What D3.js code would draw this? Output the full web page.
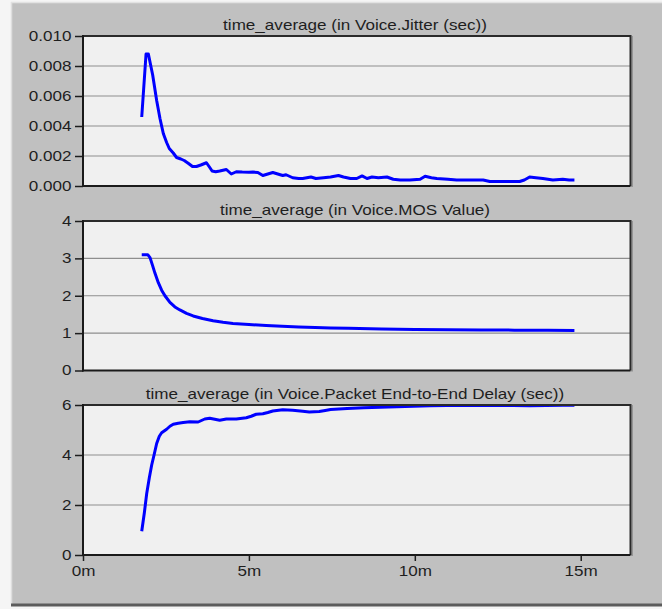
<!DOCTYPE html>
<html>
<head>
<meta charset="utf-8">
<script src="https://cdn.jsdelivr.net/npm/d3@7"></script>
<style>
  html, body { margin: 0; padding: 0; background: #f5f5f5; }
  svg { display: block; }
  text {
    font-family: "Liberation Sans", Arial, sans-serif;
    font-size: 14px;
    fill: #1e1e1e;
    transform-box: fill-box;
    transform: scaleX(1.22);
  }
  .ytick text { transform-origin: 100% 50%; }
  .xtick text, text.title { transform-origin: 50% 50%; }
</style>
</head>
<body>
<svg id="chart" width="662" height="609"></svg>
<script>
// Voice statistics, time averaged, sampled in simulation minutes
const jitterTime = [1.77, 1.90, 1.97, 2.10, 2.22, 2.32, 2.42, 2.52, 2.60, 2.72, 2.82, 2.95, 3.05, 3.18, 3.30, 3.42, 3.55, 3.72, 3.80, 3.89,
  4.00, 4.12, 4.32, 4.47, 4.62, 4.80, 5.00, 5.12, 5.27, 5.42, 5.57, 5.72, 5.87, 6.02, 6.12, 6.32, 6.50, 6.62, 6.87, 7.02,
  7.25, 7.46, 7.70, 7.85, 8.06, 8.25, 8.41, 8.56, 8.71, 8.90, 9.16, 9.35, 9.56, 9.85, 10.16, 10.31, 10.50, 10.66, 11.00, 11.26,
  11.60, 12.06, 12.26, 12.50, 12.76, 13.16, 13.30, 13.46, 13.65, 13.86, 14.16, 14.46, 14.65, 14.81];
const jitterValue = [0.0046, 0.0088, 0.0088, 0.0074, 0.0057, 0.0045, 0.0035, 0.0029, 0.0025, 0.0022, 0.0019, 0.0018, 0.0017, 0.0015, 0.0013, 0.0013, 0.0014, 0.00155, 0.0013, 0.0010,
  0.00095, 0.0010, 0.0011, 0.0008, 0.00095, 0.00093, 0.00092, 0.00093, 0.0009, 0.0007, 0.0008, 0.0009, 0.0008, 0.0007, 0.00075, 0.00055, 0.0005, 0.0005, 0.0006, 0.0005,
  0.00055, 0.0006, 0.0007, 0.0006, 0.0005, 0.0005, 0.00067, 0.0005, 0.0006, 0.00055, 0.0006, 0.00045, 0.0004, 0.0004, 0.00045, 0.00065, 0.00055, 0.0005, 0.00045, 0.0004,
  0.0004, 0.0004, 0.0003, 0.0003, 0.0003, 0.0003, 0.0004, 0.0006, 0.00055, 0.0005, 0.0004, 0.00045, 0.0004, 0.0004];

const mosTime = [1.77, 1.95, 2.02, 2.10, 2.17, 2.27, 2.37, 2.47, 2.62, 2.77, 2.92, 3.12, 3.32, 3.60, 3.92, 4.22, 4.52, 5.00, 5.52, 6.00,
  6.50, 7.00, 7.46, 8.00, 9.00, 10.00, 11.00, 12.00, 13.00, 14.00, 14.81];
const mosValue = [3.1, 3.1, 3.02, 2.8, 2.6, 2.35, 2.15, 2.0, 1.82, 1.70, 1.62, 1.53, 1.46, 1.39, 1.33, 1.29, 1.26, 1.23, 1.205, 1.185,
  1.165, 1.15, 1.14, 1.13, 1.11, 1.10, 1.09, 1.085, 1.08, 1.075, 1.07];

const delayTime = [1.77, 1.85, 1.92, 2.00, 2.07, 2.15, 2.22, 2.30, 2.37, 2.52, 2.62, 2.72, 2.87, 3.02, 3.22, 3.47, 3.57, 3.67, 3.82, 3.97,
  4.12, 4.32, 4.62, 4.92, 5.07, 5.22, 5.42, 5.57, 5.72, 6.02, 6.32, 6.62, 6.82, 7.12, 7.30, 7.46, 7.96, 8.46, 8.96, 9.46,
  9.96, 10.46, 10.96, 11.46, 11.96, 12.46, 12.96, 13.46, 13.96, 14.46, 14.81];
const delayValue = [0.95, 1.7, 2.46, 3.1, 3.6, 4.05, 4.46, 4.75, 4.89, 5.03, 5.15, 5.23, 5.27, 5.3, 5.33, 5.32, 5.38, 5.44, 5.47, 5.43,
  5.39, 5.44, 5.44, 5.49, 5.55, 5.63, 5.65, 5.7, 5.76, 5.81, 5.79, 5.75, 5.72, 5.74, 5.78, 5.82, 5.86, 5.89, 5.91, 5.93,
  5.95, 5.97, 5.98, 5.99, 5.98, 5.99, 5.98, 5.97, 5.98, 5.99, 5.99];

const titles = [
  "time_average (in Voice.Jitter (sec))",
  "time_average (in Voice.MOS Value)",
  "time_average (in Voice.Packet End-to-End Delay (sec))"
];
const jitterTicks = [0, 0.002, 0.004, 0.006, 0.008, 0.010];
const mosTicks = [0, 1, 2, 3, 4];
const delayTicks = [0, 2, 4, 6];
const timeTicks = [0, 5, 10, 15];
const timeMax = 16.5;

const svg = d3.select("#chart");

// window frame
svg.append("rect").attr("x", 11).attr("y", 2).attr("width", 651).attr("height", 603).attr("fill", "#c0c0c0");
svg.append("line").attr("x1", 11.5).attr("x2", 11.5).attr("y1", 2).attr("y2", 604).attr("stroke", "#dedede").attr("stroke-width", 1.5);
svg.append("line").attr("x1", 11).attr("x2", 662).attr("y1", 2.5).attr("y2", 2.5).attr("stroke", "#e2e2e2").attr("stroke-width", 1.5);
svg.append("line").attr("x1", 11).attr("x2", 662).attr("y1", 605).attr("y2", 605).attr("stroke", "#5c5c5c").attr("stroke-width", 3);

const left = 83, right = 630.5;
const x = d3.scaleLinear().domain([0, timeMax]).range([left, right]);

const panels = [
  { title: titles[0], t: jitterTime, v: jitterValue, ticks: jitterTicks, fmt: d3.format(".3f"), top: 36, bottom: 186 },
  { title: titles[1], t: mosTime, v: mosValue, ticks: mosTicks, fmt: d3.format("d"), top: 221, bottom: 370.5 },
  { title: titles[2], t: delayTime, v: delayValue, ticks: delayTicks, fmt: d3.format("d"), top: 405, bottom: 555 }
];

panels.forEach((p, i) => {
  const y = d3.scaleLinear().domain([p.ticks[0], p.ticks[p.ticks.length - 1]]).range([p.bottom, p.top]);
  const g = svg.append("g");

  g.append("rect")
    .attr("x", left).attr("y", p.top)
    .attr("width", right - left).attr("height", p.bottom - p.top)
    .attr("fill", "#f0f0f0");

  // horizontal grid
  g.selectAll("line.grid")
    .data(p.ticks.slice(1, -1))
    .join("line")
    .attr("class", "grid")
    .attr("x1", left).attr("x2", right)
    .attr("y1", d => y(d)).attr("y2", d => y(d))
    .attr("stroke", "#8e8e8e").attr("stroke-width", 1.2);

  const clipId = "clip" + i;
  svg.append("clipPath").attr("id", clipId)
    .append("rect").attr("x", left).attr("y", p.top).attr("width", right - left).attr("height", p.bottom - p.top);

  const pts = p.t.map((t, k) => [t, p.v[k]]);
  g.append("path")
    .datum(pts)
    .attr("clip-path", `url(#${clipId})`)
    .attr("fill", "none")
    .attr("stroke", "#0000ff")
    .attr("stroke-width", 3)
    .attr("stroke-linejoin", "round")
    .attr("stroke-linecap", "butt")
    .attr("d", d3.line().x(d => x(d[0])).y(d => y(d[1])));

  // plot frame: top and right edges
  g.append("path")
    .attr("d", `M${left},${p.top}H${right}V${p.bottom}`)
    .attr("fill", "none").attr("stroke", "#2a2a2a").attr("stroke-width", 2);
  g.append("line")
    .attr("x1", right + 1.5).attr("x2", right + 1.5).attr("y1", p.top).attr("y2", p.bottom + 1)
    .attr("stroke", "#6a6a6a").attr("stroke-width", 1);

  // left value axis
  const ya = g.append("g").attr("class", "ytick")
    .attr("transform", `translate(${left},0)`)
    .call(d3.axisLeft(y).tickValues(p.ticks).tickFormat(p.fmt).tickSize(8).tickPadding(3.5));
  ya.select(".domain").remove();
  ya.selectAll(".tick line").attr("stroke", "#1e1e1e").attr("stroke-width", 1.5);
  ya.selectAll("text").attr("font-family", null).attr("font-size", null).attr("fill", null);

  // axis lines
  g.append("line").attr("x1", left).attr("x2", left).attr("y1", p.top - 1).attr("y2", p.bottom + 1)
    .attr("stroke", "#1a1a1a").attr("stroke-width", 2);
  g.append("line").attr("x1", left - 1).attr("x2", right).attr("y1", p.bottom).attr("y2", p.bottom)
    .attr("stroke", "#1a1a1a").attr("stroke-width", 2);

  g.append("text")
    .attr("class", "title")
    .attr("x", 355).attr("y", p.top - 5.5)
    .attr("text-anchor", "middle")
    .text(p.title);

  if (i === panels.length - 1) {
    const xa = g.append("g").attr("class", "xtick")
      .attr("transform", `translate(0,${p.bottom})`)
      .call(d3.axisBottom(x).tickValues(timeTicks).tickFormat(d => d + "m").tickSize(6).tickPadding(5));
    xa.select(".domain").remove();
    xa.selectAll(".tick line").attr("stroke", "#1e1e1e").attr("stroke-width", 1.5);
    xa.selectAll("text").attr("font-family", null).attr("font-size", null).attr("fill", null);
  }
});
</script>
</body>
</html>
